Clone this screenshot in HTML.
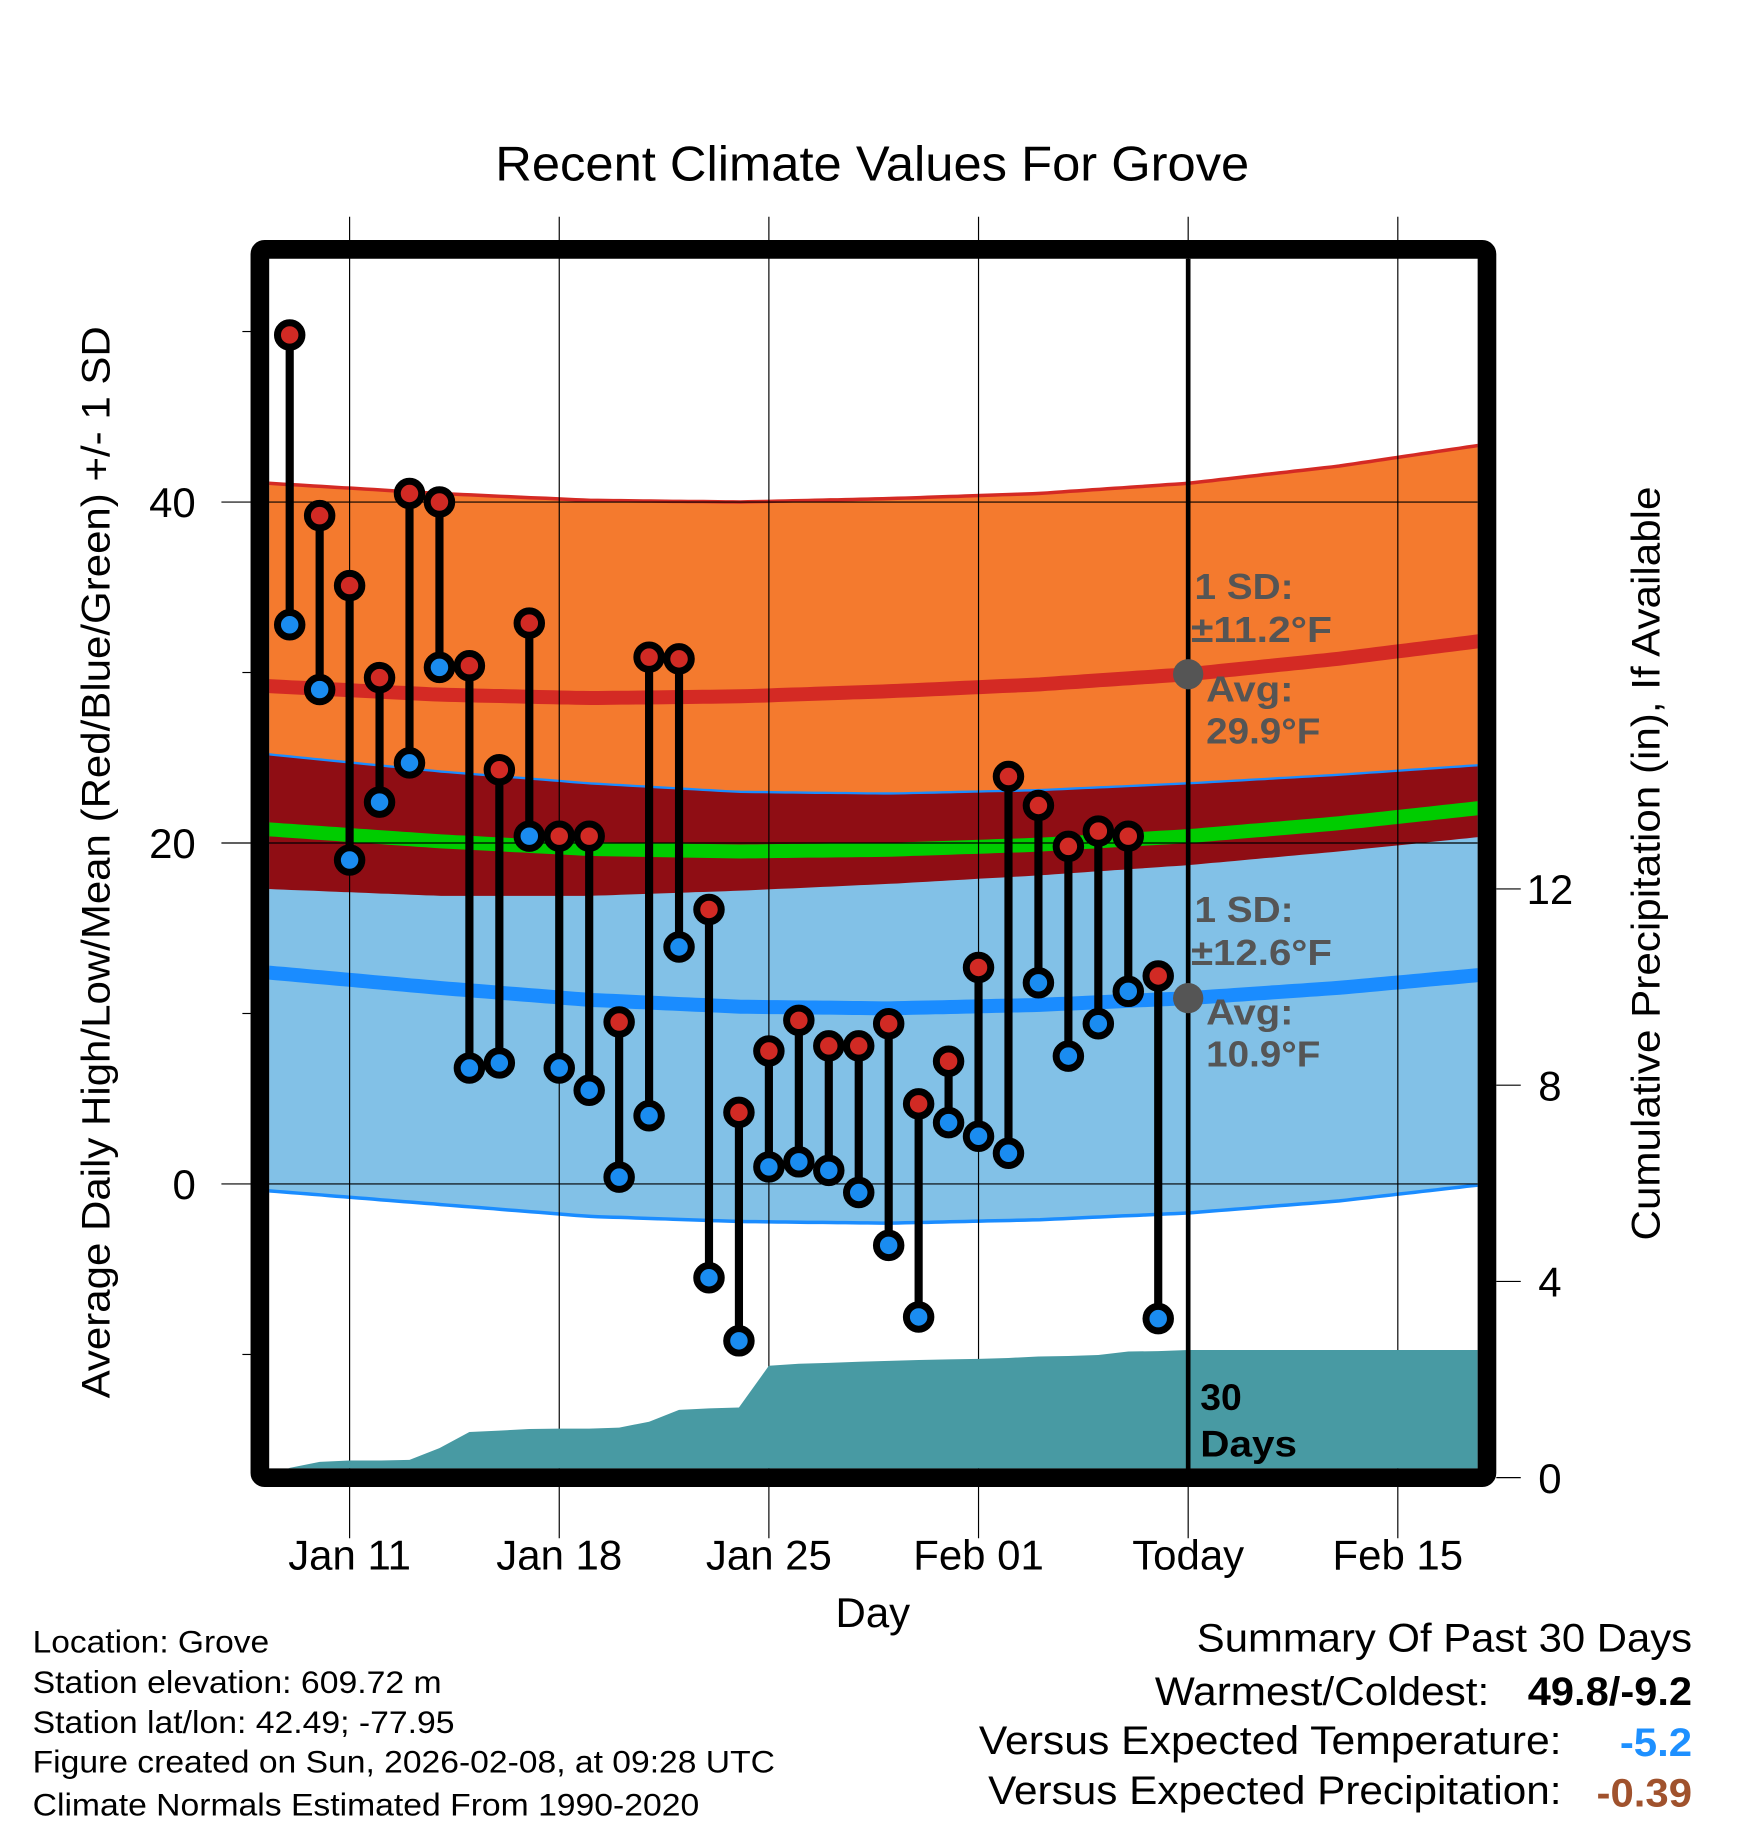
<!DOCTYPE html>
<html><head><meta charset="utf-8"><style>
html,body{margin:0;padding:0;background:#fff}
svg{display:block}
text{font-family:"Liberation Sans",Arial,sans-serif}
</style></head><body>
<svg id="chart" width="1748" height="1828" viewBox="0 0 1500 1568.65" preserveAspectRatio="none" xmlns="http://www.w3.org/2000/svg">
<defs><clipPath id="plotclip"><rect x="231" y="222" width="1037" height="1038"/></clipPath></defs>
<g id="bands" clip-path="url(#plotclip)"></g>
<g id="grid"></g>
<g id="precip" clip-path="url(#plotclip)"></g>
<g id="marks"></g>
<g id="frame"></g>
<g id="texts"></g>
</svg>
<script>
// ---- data ----
const dayLabels = ["Jan 11","Jan 18","Jan 25","Feb 01","Today","Feb 15"];
const dayLabelIdx = [2,9,16,23,30,37];
const highs = [49.8,39.2,35.1,29.7,40.5,40.0,30.4,24.3,32.9,20.4,20.4,9.5,30.9,30.8,16.1,4.2,7.8,9.6,8.1,8.1,9.4,4.7,7.2,12.7,23.9,22.2,19.8,20.7,20.4,12.2];
const lows = [32.8,29.0,19.0,22.4,24.7,30.3,6.8,7.1,20.4,6.8,5.5,0.4,4.0,13.9,-5.5,-9.2,1.0,1.3,0.8,-0.5,-3.6,-7.8,3.6,2.8,1.8,11.8,7.5,9.4,11.3,-7.9];
const precip = [0.2,0.32,0.35,0.35,0.36,0.6,0.93,0.96,0.99,1.0,1.0,1.02,1.14,1.38,1.41,1.43,2.28,2.32,2.34,2.36,2.38,2.4,2.41,2.42,2.44,2.47,2.48,2.5,2.57,2.58,2.6];
const normDays = [-0.7,5,10,15,20,25,30,35,40];
const highAvg = [29.2,28.7,28.5,28.6,28.9,29.3,29.9,30.8,31.9];
const lowAvg = [12.4,11.5,10.8,10.4,10.3,10.5,10.9,11.5,12.3];
const highSDs = [11.9,11.8,11.6,11.4,11.3,11.2,11.2,11.3,11.5];
const lowSDs = [12.8,12.7,12.7,12.6,12.6,12.6,12.6,12.5,12.3];
const leftTicks = [0,20,40];
const leftMinor = [-10,10,30,50];
const rightTicks = [0,4,8,12];

// ---- axes ----
const X = d => 300 + (d - 2) * 25.7;
const Y = v => 1016 - v * 14.63;
const YP = p => 1268 - p * 42.1;
const NS = "http://www.w3.org/2000/svg";
function mk(parent, tag, attrs, txt){const e=document.createElementNS(NS,tag);for(const k in attrs)e.setAttribute(k,attrs[k]);if(txt!==undefined)e.textContent=txt;parent.appendChild(e);return e;}
const bands=document.getElementById('bands'),grid=document.getElementById('grid'),pr=document.getElementById('precip'),marks=document.getElementById('marks'),frame=document.getElementById('frame'),texts=document.getElementById('texts');

function interp(arr,d){for(let i=0;i<normDays.length-1;i++){if(d<=normDays[i+1]||i==normDays.length-2){const t=(d-normDays[i])/(normDays[i+1]-normDays[i]);return arr[i]+(arr[i+1]-arr[i])*t;}}}
const ds=[];for(let d=normDays[0];d<=normDays[normDays.length-1]+0.001;d+=0.25)ds.push(d);
function line(f){return ds.map(d=>X(d).toFixed(1)+","+Y(f(d)).toFixed(1));}
function band(fu,fl){return line(fu).concat(line(fl).reverse()).join(" ");}
const hA=d=>interp(highAvg,d), lA=d=>interp(lowAvg,d), hS=d=>interp(highSDs,d), lS=d=>interp(lowSDs,d);
let e;
e=mk(bands,'polygon',{points:band(d=>hA(d)+hS(d),d=>hA(d)-hS(d)),fill:'#f47a2e'});


e=mk(bands,'polygon',{points:band(d=>lA(d)+lS(d),d=>lA(d)-lS(d)),fill:'#82c1e7'});


e=mk(bands,'polygon',{points:band(d=>lA(d)+lS(d),d=>hA(d)-hS(d)),fill:'#8f0d14'});


mk(bands,'polyline',{points:line(d=>hA(d)+hS(d)).join(" "),fill:'none',stroke:'#d42a24','stroke-width':3});
mk(bands,'polyline',{points:line(d=>lA(d)+lS(d)).join(" "),fill:'none',stroke:'#1a8cff','stroke-width':2});
mk(bands,'polyline',{points:line(d=>lA(d)-lS(d)).join(" "),fill:'none',stroke:'#1a8cff','stroke-width':3});
e=mk(bands,'polyline',{points:line(hA).join(" "),fill:'none',stroke:'#d42a24','stroke-width':12});


e=mk(bands,'polyline',{points:line(lA).join(" "),fill:'none',stroke:'#1a8cff','stroke-width':12});


e=mk(bands,'polyline',{points:line(d=>(hA(d)+lA(d))/2).join(" "),fill:'none',stroke:'#00cc00','stroke-width':12});



// grid
dayLabelIdx.forEach((d,i)=>{
  mk(grid,'line',{x1:X(d),x2:X(d),y1:186,y2:1320,stroke:'#000','stroke-width':1});
  const t=mk(texts,'text',{x:X(d),y:1347,'font-size':36,'text-anchor':'middle'},dayLabels[i]);
  
  
});
leftTicks.forEach(v=>{
  mk(grid,'line',{x1:190,x2:1268,y1:Y(v),y2:Y(v),stroke:'#000','stroke-width':1});
  const t=mk(texts,'text',{x:168,y:Y(v)+13,'font-size':36,'text-anchor':'end'},String(v));
  
  
});
leftMinor.forEach(v=>mk(grid,'line',{x1:208,x2:218,y1:Y(v),y2:Y(v),stroke:'#000','stroke-width':1}));
rightTicks.forEach(v=>{
  mk(grid,'line',{x1:1284,x2:1305,y1:YP(v),y2:YP(v),stroke:'#000','stroke-width':1});
  const t=mk(texts,'text',{x:1330,y:YP(v)+13,'font-size':36,'text-anchor':'middle'},String(v));
  
  
});

// precip
let pts=[X(-0.7)+","+YP(0)];
precip.forEach((p,i)=>pts.push(X(i).toFixed(1)+","+YP(p).toFixed(1)));
pts.push(X(40)+","+YP(precip[precip.length-1]).toFixed(1));
pts.push(X(40)+","+YP(0));
e=mk(pr,'polygon',{points:pts.join(" "),fill:'#489aa3'});



// today line
mk(marks,'line',{x1:X(30),x2:X(30),y1:222,y2:1262,stroke:'#000','stroke-width':4});

// stems and markers
highs.forEach((h,i)=>{
  const x=X(i);
  const s=mk(marks,'line',{x1:x,x2:x,y1:Y(h),y2:Y(lows[i]),stroke:'#000','stroke-width':7});
  
  
});
highs.forEach((h,i)=>{
  const x=X(i);
  const a=mk(marks,'circle',{cx:x,cy:Y(h),r:10.5,fill:'#d12a24',stroke:'#000','stroke-width':6});
  
  
  const b=mk(marks,'circle',{cx:x,cy:Y(lows[i]),r:10.5,fill:'#1a8cf0',stroke:'#000','stroke-width':6});
  
  
});
mk(marks,'circle',{cx:X(30),cy:Y(hA(30)),r:13,fill:'#555'});
mk(marks,'circle',{cx:X(30),cy:Y(lA(30)),r:13,fill:'#555'});

// frame
mk(frame,'rect',{x:223,y:214,width:1053,height:1054,fill:'none',stroke:'#000','stroke-width':16,rx:4});
</script>
<svg style="position:absolute;left:0;top:0" width="1748" height="1828" viewBox="0 0 1500 1568.65" preserveAspectRatio="none">
<text x="425" y="155" font-size="42" textLength="647" lengthAdjust="spacingAndGlyphs" font-family="Liberation Sans, sans-serif">Recent Climate Values For Grove</text>
<text transform="translate(94,740) rotate(-90)" font-size="34" text-anchor="middle" textLength="920" lengthAdjust="spacingAndGlyphs" font-family="Liberation Sans, sans-serif">Average Daily High/Low/Mean (Red/Blue/Green) +/- 1 SD</text>
<text transform="translate(1424,741) rotate(-90)" font-size="34" text-anchor="middle" textLength="647" lengthAdjust="spacingAndGlyphs" font-family="Liberation Sans, sans-serif">Cumulative Precipitation (in), If Available</text>
<text x="749" y="1396" font-size="36" text-anchor="middle" font-family="Liberation Sans, sans-serif">Day</text>
<g font-size="31" font-weight="bold" fill="#555" font-family="Liberation Sans, sans-serif">
<text x="1025" y="514" textLength="85" lengthAdjust="spacingAndGlyphs">1 SD:</text><text x="1022" y="551" textLength="121" lengthAdjust="spacingAndGlyphs">±11.2°F</text><text x="1035" y="602" textLength="75" lengthAdjust="spacingAndGlyphs">Avg:</text><text x="1035" y="638" textLength="98" lengthAdjust="spacingAndGlyphs">29.9°F</text>
</g>
<g font-size="31" font-weight="bold" fill="#555" font-family="Liberation Sans, sans-serif">
<text x="1025" y="791" textLength="85" lengthAdjust="spacingAndGlyphs">1 SD:</text><text x="1022" y="828" textLength="121" lengthAdjust="spacingAndGlyphs">±12.6°F</text><text x="1035" y="879" textLength="75" lengthAdjust="spacingAndGlyphs">Avg:</text><text x="1035" y="915" textLength="98" lengthAdjust="spacingAndGlyphs">10.9°F</text>
</g>
<g font-size="32" font-weight="bold" font-family="Liberation Sans, sans-serif">
<text x="1030" y="1210">30</text><text x="1030" y="1250" textLength="83" lengthAdjust="spacingAndGlyphs">Days</text>
</g>
<g font-size="27" font-family="Liberation Sans, sans-serif">
<text x="28" y="1418" textLength="203" lengthAdjust="spacingAndGlyphs">Location: Grove</text>
<text x="28" y="1453" textLength="351" lengthAdjust="spacingAndGlyphs">Station elevation: 609.72 m</text>
<text x="28" y="1487" textLength="362" lengthAdjust="spacingAndGlyphs">Station lat/lon: 42.49; -77.95</text>
<text x="28" y="1521" textLength="637" lengthAdjust="spacingAndGlyphs">Figure created on Sun, 2026-02-08, at 09:28 UTC</text>
<text x="28" y="1558" textLength="572" lengthAdjust="spacingAndGlyphs">Climate Normals Estimated From 1990-2020</text>
</g>
<g font-size="34" font-family="Liberation Sans, sans-serif">
<text x="1027" y="1417" textLength="425" lengthAdjust="spacingAndGlyphs">Summary Of Past 30 Days</text>
<text x="991" y="1463" textLength="287" lengthAdjust="spacingAndGlyphs">Warmest/Coldest:</text>
<text x="1311" y="1463" font-weight="bold" textLength="141" lengthAdjust="spacingAndGlyphs">49.8/-9.2</text>
<text x="840" y="1505" textLength="500" lengthAdjust="spacingAndGlyphs">Versus Expected Temperature:</text>
<text x="1390" y="1507" font-weight="bold" fill="#1e90ff" textLength="62" lengthAdjust="spacingAndGlyphs">-5.2</text>
<text x="848" y="1548" textLength="492" lengthAdjust="spacingAndGlyphs">Versus Expected Precipitation:</text>
<text x="1370" y="1550" font-weight="bold" fill="#a0522d" textLength="82" lengthAdjust="spacingAndGlyphs">-0.39</text>
</g>
</svg>
</body></html>
